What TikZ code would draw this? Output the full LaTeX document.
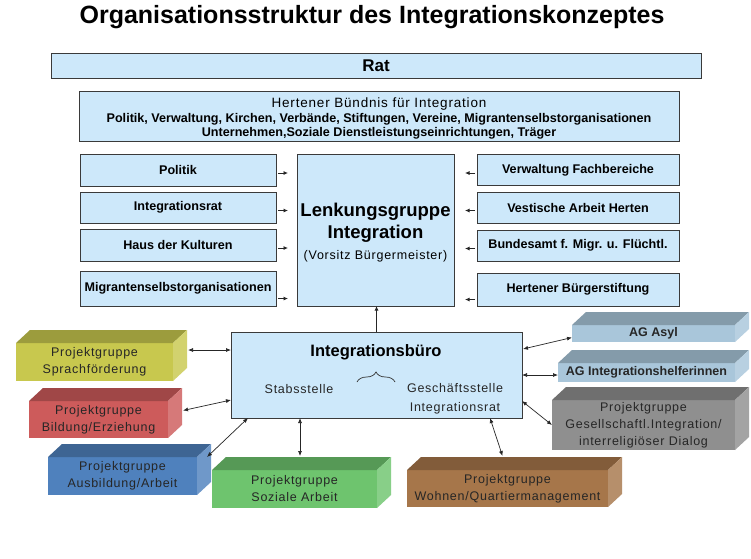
\documentclass[tikz,border=0pt]{standalone}
\usepackage{fontspec}
\setmainfont{Liberation Sans}
\newfontfamily\sperr[LetterSpace=6]{Liberation Sans}
\usetikzlibrary{arrows.meta,decorations.pathreplacing}

\definecolor{hellblau}{HTML}{CDE8FA}
\definecolor{rahmen}{HTML}{3A3A3A}
\definecolor{gelb}{HTML}{C8C84E}
\definecolor{rot}{HTML}{CD5B5B}
\definecolor{blau}{HTML}{4F81BD}
\definecolor{gruen}{HTML}{6EC46E}
\definecolor{braun}{HTML}{A6764A}
\definecolor{graublau}{HTML}{A9C6DA}
\definecolor{grau}{HTML}{8F8F8F}

\newcommand{\quader}[6]{%
  \node[projekt, fill=#5, minimum width=#3pt, minimum height=#4pt] (#1) at (#2) {#6};
  \fill[#5!78!black] (#1.north west) -- ++(14,-13) -- ([shift={(14,-13)}]#1.north east) -- (#1.north east) -- cycle;
  \fill[#5!82!white] (#1.north east) -- ++(14,-13) -- ([shift={(14,-13)}]#1.south east) -- (#1.south east) -- cycle;
}

\begin{document}
\begin{tikzpicture}[x=1pt, y=-1pt,
  box/.style={draw=rahmen, fill=hellblau, line width=0.8pt, inner sep=0pt, outer sep=0pt, align=center},
  klein/.style={box, font=\fontsize{12.6}{14}\selectfont\bfseries},
  links/.style={klein, minimum width=196pt},
  rechts/.style={klein, minimum width=202pt},
  projekt/.style={inner sep=0pt, outer sep=0pt, align=center, text=black!85, font=\sperr\fontsize{12.5}{17}\selectfont},
  pfeil/.style={-{Latex[length=4.5pt,width=4pt]}, line width=0.8pt, black!85},
  doppel/.style={{Latex[length=5pt,width=4pt]}-{Latex[length=5pt,width=4pt]}, line width=0.7pt, black!85}]

\path[use as bounding box, fill=white] (0,0) rectangle (751,558);

\node[font=\fontsize{25}{30}\selectfont\bfseries] (titel) at (372,17) {Organisationsstruktur des Integrationskonzeptes};
\node[box, minimum width=650pt, minimum height=25pt, font=\fontsize{17}{20}\selectfont\bfseries] (rat) at (376,65.5) {Rat};
\node[box, minimum width=600pt, minimum height=50pt] (buendnis) at (379,116.5) {};
\node[align=center, font=\fontsize{12.6}{14.5}\selectfont\bfseries] (buendnisText) at (379,118.5) {{\mdseries\sperr\fontsize{13.5}{15}\selectfont Hertener Bündnis für Integration}\\Politik, Verwaltung, Kirchen, Verbände, Stiftungen, Vereine, Migrantenselbstorganisationen\\Unternehmen,Soziale Dienstleistungseinrichtungen, Träger};

\node[links, minimum height=32pt] (politik) at (178,170) {Politik};
\node[links, minimum height=31pt] (irat) at (178,207.5) {Integrationsrat};
\node[links, minimum height=32pt] (haus) at (178,245) {Haus der Kulturen};
\node[links, minimum height=35pt] (migranten) at (178,288.5) {Migrantenselbstorganisationen};
\node[rechts, minimum height=31pt] (verwaltung) at (578,170) {Verwaltung Fachbereiche};
\node[rechts, minimum height=31pt] (vestische) at (578,207.5) {Vestische Arbeit Herten};
\node[rechts, minimum height=31pt] (bundesamt) at (578,245.5) {Bundesamt f. Migr. u. Flüchtl.};
\node[rechts, minimum height=33pt] (stiftung) at (578,289.5) {Hertener Bürgerstiftung};

\node[box, minimum width=157pt, minimum height=152pt] (lenkung) at (375.5,230) {};
\node[align=center, font=\fontsize{18.5}{22}\selectfont\bfseries] (lenkungText) at (375.5,233) {Lenkungsgruppe\\Integration\\[-1pt]{\mdseries\sperr\fontsize{12.5}{14}\selectfont (Vorsitz Bürgermeister)}};

\node[box, minimum width=291pt, minimum height=86pt] (buero) at (376.5,375) {};
\node[font=\fontsize{16.5}{20}\selectfont\bfseries] (bueroTitel) at (376,352) {Integrationsbüro};
\node[projekt] (stab) at (299,389) {Stabsstelle};
\node[projekt, font=\sperr\fontsize{12.5}{19}\selectfont] (geschaeft) at (455,398.5) {Geschäftsstelle\\Integrationsrat};
\draw[decorate, decoration={brace, amplitude=10pt}, line width=0.7pt, black!80] (357,382) -- (395,382);

\quader{sprach}{94.5,362}{157}{38}{gelb}{Projektgruppe\\Sprachförderung}
\quader{bildung}{98.5,419.5}{139}{37}{rot}{Projektgruppe\\Bildung/Erziehung}
\quader{ausbildung}{122.5,476}{149}{38}{blau}{Projektgruppe\\Ausbildung/Arbeit}
\quader{soziale}{294.5,489}{165}{38}{gruen}{Projektgruppe\\Soziale Arbeit}
\quader{wohnen}{507.5,488.5}{201}{37}{braun}{Projektgruppe\\Wohnen/Quartiermanagement}
\quader{asyl}{653.5,333.5}{163}{17}{graublau}{\rmfamily\bfseries AG Asyl}
\quader{helfer}{646.5,372.5}{177}{19}{graublau}{\rmfamily\bfseries AG Integrationshelferinnen}
\quader{gesell}{643.5,425}{183}{50}{grau}{\fontsize{12.5}{16.5}\selectfont Projektgruppe\\Gesellschaftl.Integration/\\interreligiöser Dialog}

\foreach \quelle/\dy in {politik/-3, irat/-3, haus/-3, migranten/-10}
  {\coordinate (a) at ([yshift=\dy pt]\quelle.east);
   \draw[pfeil, shorten <=2pt, shorten >=9pt] (a) -- (a -| lenkung.west);}
\foreach \quelle/\dy in {verwaltung/-3, vestische/-3, bundesamt/-3, stiftung/-10}
  {\coordinate (b) at ([yshift=\dy pt]\quelle.west);
   \draw[pfeil, shorten <=2pt, shorten >=11pt] (b) -- (b -| lenkung.east);}
\draw[pfeil] (buero.north) -- (buero.north |- lenkung.south);

\draw[doppel] ([xshift=15pt,yshift=12pt]sprach.east) -- ([yshift=-18pt]buero.north west);
\draw[doppel] ([xshift=15pt,yshift=9pt]bildung.east) -- ([yshift=-68pt]buero.north west);
\draw[doppel] ([xshift=10pt]ausbildung.north east) -- ([xshift=17pt]buero.south west);
\coordinate (sozOben) at ([xshift=5.5pt,yshift=14pt]soziale.north);
\draw[doppel] (sozOben) -- (sozOben |- buero.south);
\draw[doppel] ([xshift=-5pt,yshift=14pt]wohnen.north) -- ([xshift=-32pt]buero.south east);
\draw[doppel] ([xshift=1pt,yshift=-17pt]buero.north east) -- ([yshift=-4pt]asyl.west);
\draw[doppel] (buero.east) -- (buero.east -| helfer.west);
\draw[doppel] ([yshift=-69pt]buero.north east) -- (gesell.west);
\end{tikzpicture}
\end{document}
